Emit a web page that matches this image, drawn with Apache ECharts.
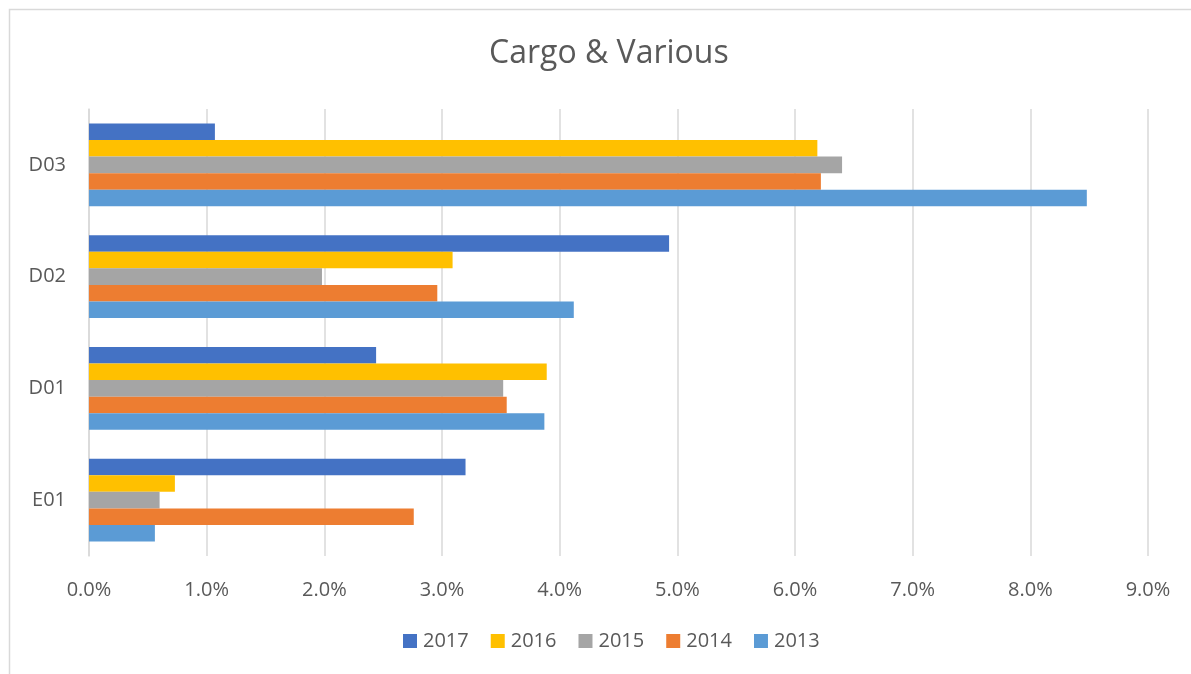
<!DOCTYPE html>
<html>
<head>
<meta charset="utf-8">
<script src="https://cdn.jsdelivr.net/npm/echarts@6/dist/echarts.min.js"></script>
<style>
  html, body { margin: 0; padding: 0; background: #fff; }
  #chart { width: 1191px; height: 674px; }
</style>
</head>
<body>
<div id="chart"></div>
<script>
// categories bottom -> top
var categories = ["E01", "D01", "D02", "D03"];

// values in percent, same order as categories
var v2017 = [3.20, 2.44, 4.93, 1.07];
var v2016 = [0.73, 3.89, 3.09, 6.19];
var v2015 = [0.60, 3.52, 1.98, 6.40];
var v2014 = [2.76, 3.55, 2.96, 6.22];
var v2013 = [0.56, 3.87, 4.12, 8.48];

var xTicks = { min: 0, max: 9, interval: 1 };

var colors = {
  "2017": "#4472C4",
  "2016": "#FFC000",
  "2015": "#A5A5A5",
  "2014": "#ED7D31",
  "2013": "#5B9BD5"
};

// first series sits at the top of each band
var seriesData = [
  ["2017", v2017],
  ["2016", v2016],
  ["2015", v2015],
  ["2014", v2014],
  ["2013", v2013]
];

var chart = echarts.init(document.getElementById("chart"));

var option = {
  animation: false,
  backgroundColor: "#fff",
  textStyle: { fontFamily: "Open Sans" },
  title: {
    text: "Cargo & Various",
    left: 484,
    top: 33,
    textStyle: { fontSize: 32, fontWeight: "normal", color: "#595959", fontFamily: "Open Sans" }
  },
  legend: {
    data: seriesData.map(function (s) { return s[0]; }),
    bottom: 18,
    left: 398,
    itemWidth: 14,
    itemHeight: 14,
    itemGap: 22,
    icon: "rect",
    textStyle: { fontSize: 20, color: "#595959", padding: [0, 0, 0, 1] }
  },
  grid: { left: 89, right: 43, top: 109, bottom: 118, containLabel: false },
  xAxis: {
    type: "value",
    min: xTicks.min,
    max: xTicks.max,
    interval: xTicks.interval,
    axisLine: { show: false },
    axisTick: { show: false },
    splitLine: { lineStyle: { color: "#d9d9d9", width: 1.5 } },
    axisLabel: {
      margin: 24,
      fontSize: 20,
      color: "#595959",
      formatter: function (v) { return v.toFixed(1) + "%"; }
    }
  },
  yAxis: {
    type: "category",
    data: categories,
    axisLine: { show: true, lineStyle: { color: "#d9d9d9", width: 1.5 } },
    axisTick: { show: false },
    axisLabel: { margin: 23, fontSize: 20, color: "#595959" }
  },
  graphic: [
    {
      type: "rect",
      shape: { x: 9.5, y: 9.5, width: 1300, height: 800 },
      style: { fill: "none", stroke: "#d9d9d9", lineWidth: 1.5 },
      silent: true
    }
  ],
  series: seriesData.map(function (s) {
    return {
      name: s[0],
      type: "bar",
      data: s[1],
      barGap: "0%",
      barCategoryGap: "26%",
      itemStyle: { color: colors[s[0]] }
    };
  })
};

chart.setOption(option);
</script>
</body>
</html>
